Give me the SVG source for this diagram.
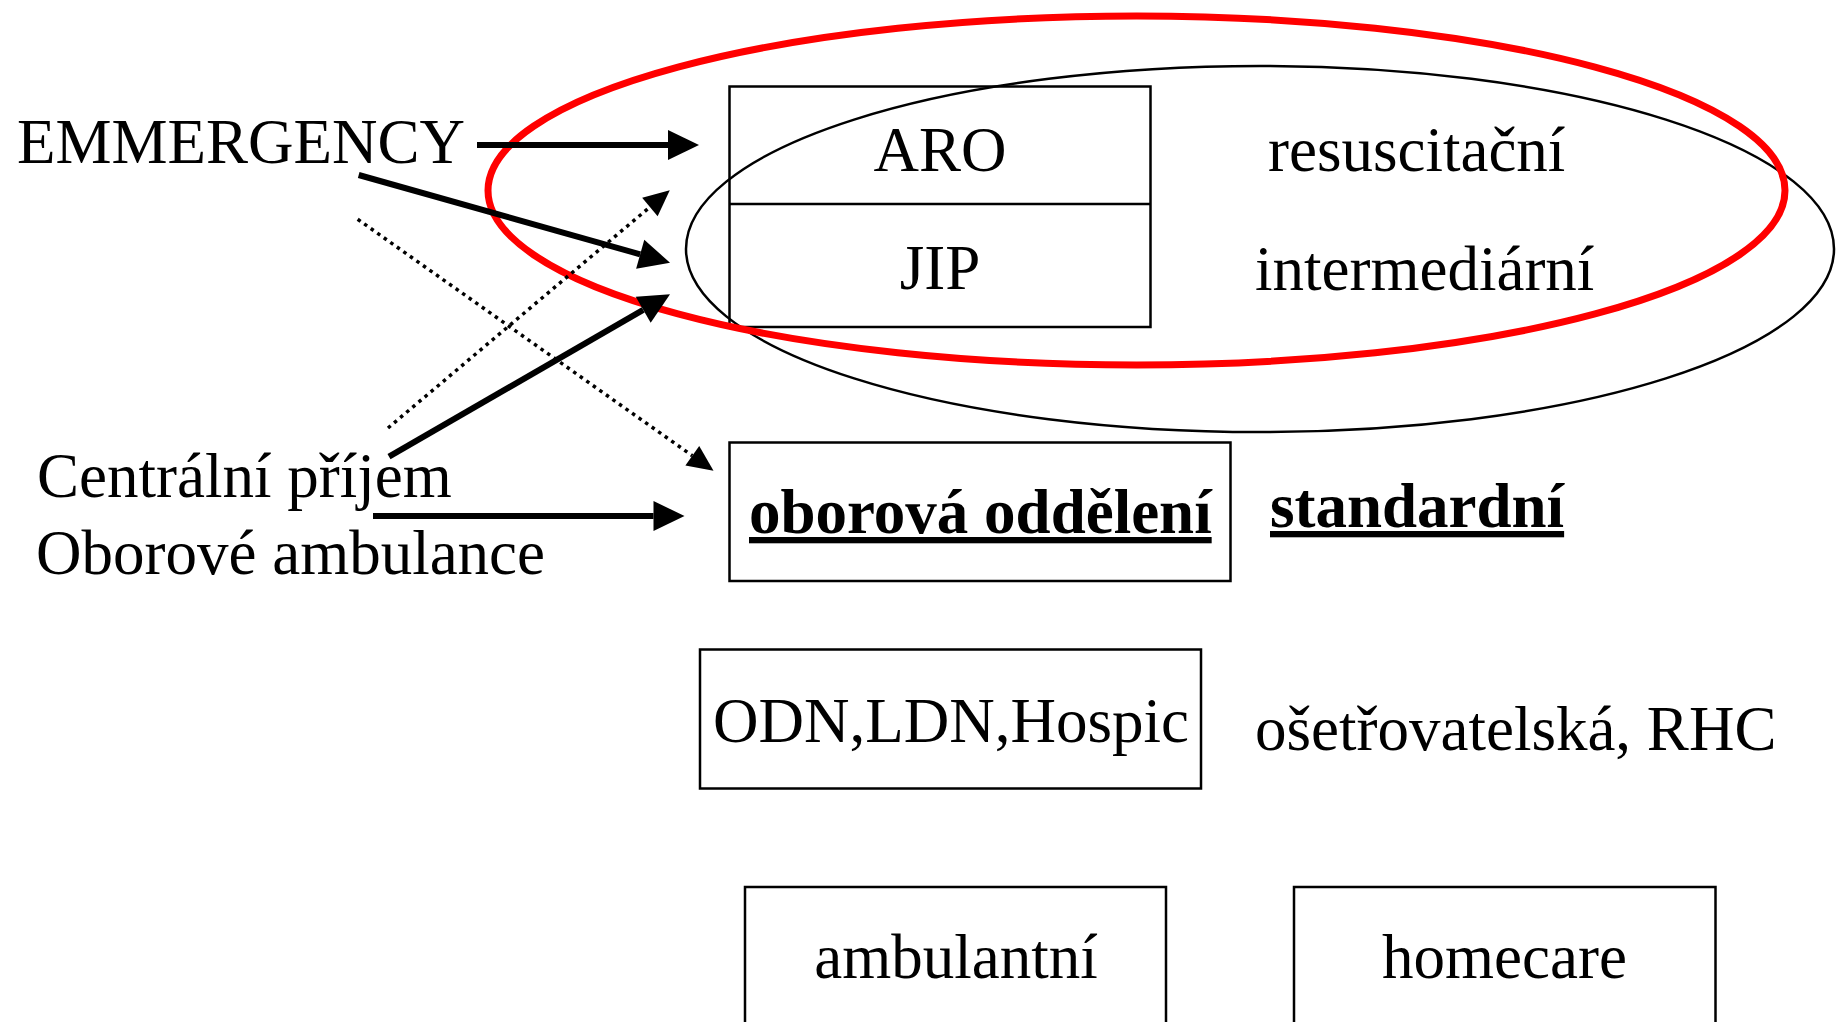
<svg xmlns="http://www.w3.org/2000/svg" width="1839" height="1022" viewBox="0 0 1839 1022">
  <style>
    text { font-family: "Liberation Serif", "Times New Roman", serif; font-size: 63px; fill: #000; }
    .c { text-anchor: middle; }
    .b { font-weight: bold; text-decoration: underline; }
    .box { fill: none; stroke: #000; stroke-width: 2.5; }
    .solid { stroke: #000; stroke-width: 6; fill: none; }
    .dot { stroke: #000; stroke-width: 3.5; stroke-dasharray: 3.5 4.5; fill: none; }
  </style>
  <defs>
    <marker id="ah" markerUnits="userSpaceOnUse" markerWidth="31" markerHeight="30" refX="0" refY="15" orient="auto" overflow="visible">
      <path d="M0,0 L31,15 L0,30 Z" fill="#000"/>
    </marker>
    <marker id="ahs" markerUnits="userSpaceOnUse" markerWidth="26" markerHeight="24" refX="0" refY="12" orient="auto" overflow="visible">
      <path d="M0,0 L26,12 L0,24 Z" fill="#000"/>
    </marker>
  </defs>
  <rect width="1839" height="1022" fill="#fff"/>

  <g id="intensive-ellipse">
    <ellipse cx="1260" cy="249" rx="574" ry="183" fill="none" stroke="#000" stroke-width="2.5"/>
  </g>

  <g id="aro-jip">
    <rect class="box" x="729.5" y="86.5" width="421" height="240.5"/>
    <line x1="729.5" y1="204" x2="1150.5" y2="204" stroke="#000" stroke-width="2.5"/>
    <text class="c" x="940" y="171">ARO</text>
    <text class="c" x="940" y="289">JIP</text>
  </g>
  <g id="label-resuscitacni"><text x="1268" y="171">resuscitační</text></g>
  <g id="label-intermediarni"><text x="1255" y="290">intermediární</text></g>

  <g id="oborova">
    <rect class="box" x="729.5" y="442.5" width="501" height="138.5"/>
    <text class="b" x="749" y="533">oborová oddělení</text>
  </g>
  <g id="label-standardni"><text class="b" x="1270" y="527">standardní</text></g>

  <g id="odn">
    <rect class="box" x="700" y="649.5" width="501" height="139"/>
    <text x="713" y="742">ODN,LDN,Hospic</text>
  </g>
  <g id="label-osetrovatelska"><text x="1255" y="750">ošetřovatelská, RHC</text></g>

  <g id="ambulantni">
    <rect class="box" x="745" y="887" width="421" height="160"/>
    <text class="c" x="956" y="978">ambulantní</text>
  </g>
  <g id="homecare">
    <rect class="box" x="1294" y="887" width="421.5" height="160"/>
    <text class="c" x="1504.5" y="978">homecare</text>
  </g>

  <g id="emergency"><text x="17" y="163">EMMERGENCY</text></g>
  <g id="centralni"><text x="37" y="497">Centrální příjem</text></g>
  <g id="oborove-ambulance"><text x="36" y="574">Oborové ambulance</text></g>

  <g id="critical-ellipse">
    <ellipse cx="1136.5" cy="190.5" rx="648.5" ry="174.5" fill="none" stroke="#ff0000" stroke-width="7"/>
  </g>

  <g id="connectors">
    <line class="solid" x1="477" y1="145" x2="668" y2="145" marker-end="url(#ah)"/>
    <line class="solid" x1="358.7" y1="175" x2="640.2" y2="254.3" marker-end="url(#ah)"/>
    <line class="solid" x1="389" y1="456.7" x2="643.2" y2="309.8" marker-end="url(#ah)"/>
    <line class="dot" x1="388" y1="428" x2="649.9" y2="207" marker-end="url(#ahs)"/>
    <line class="dot" x1="357.7" y1="219.3" x2="692.3" y2="455.7" marker-end="url(#ahs)"/>
    <line class="solid" x1="373" y1="516" x2="653.5" y2="516" marker-end="url(#ah)"/>
  </g>
</svg>
